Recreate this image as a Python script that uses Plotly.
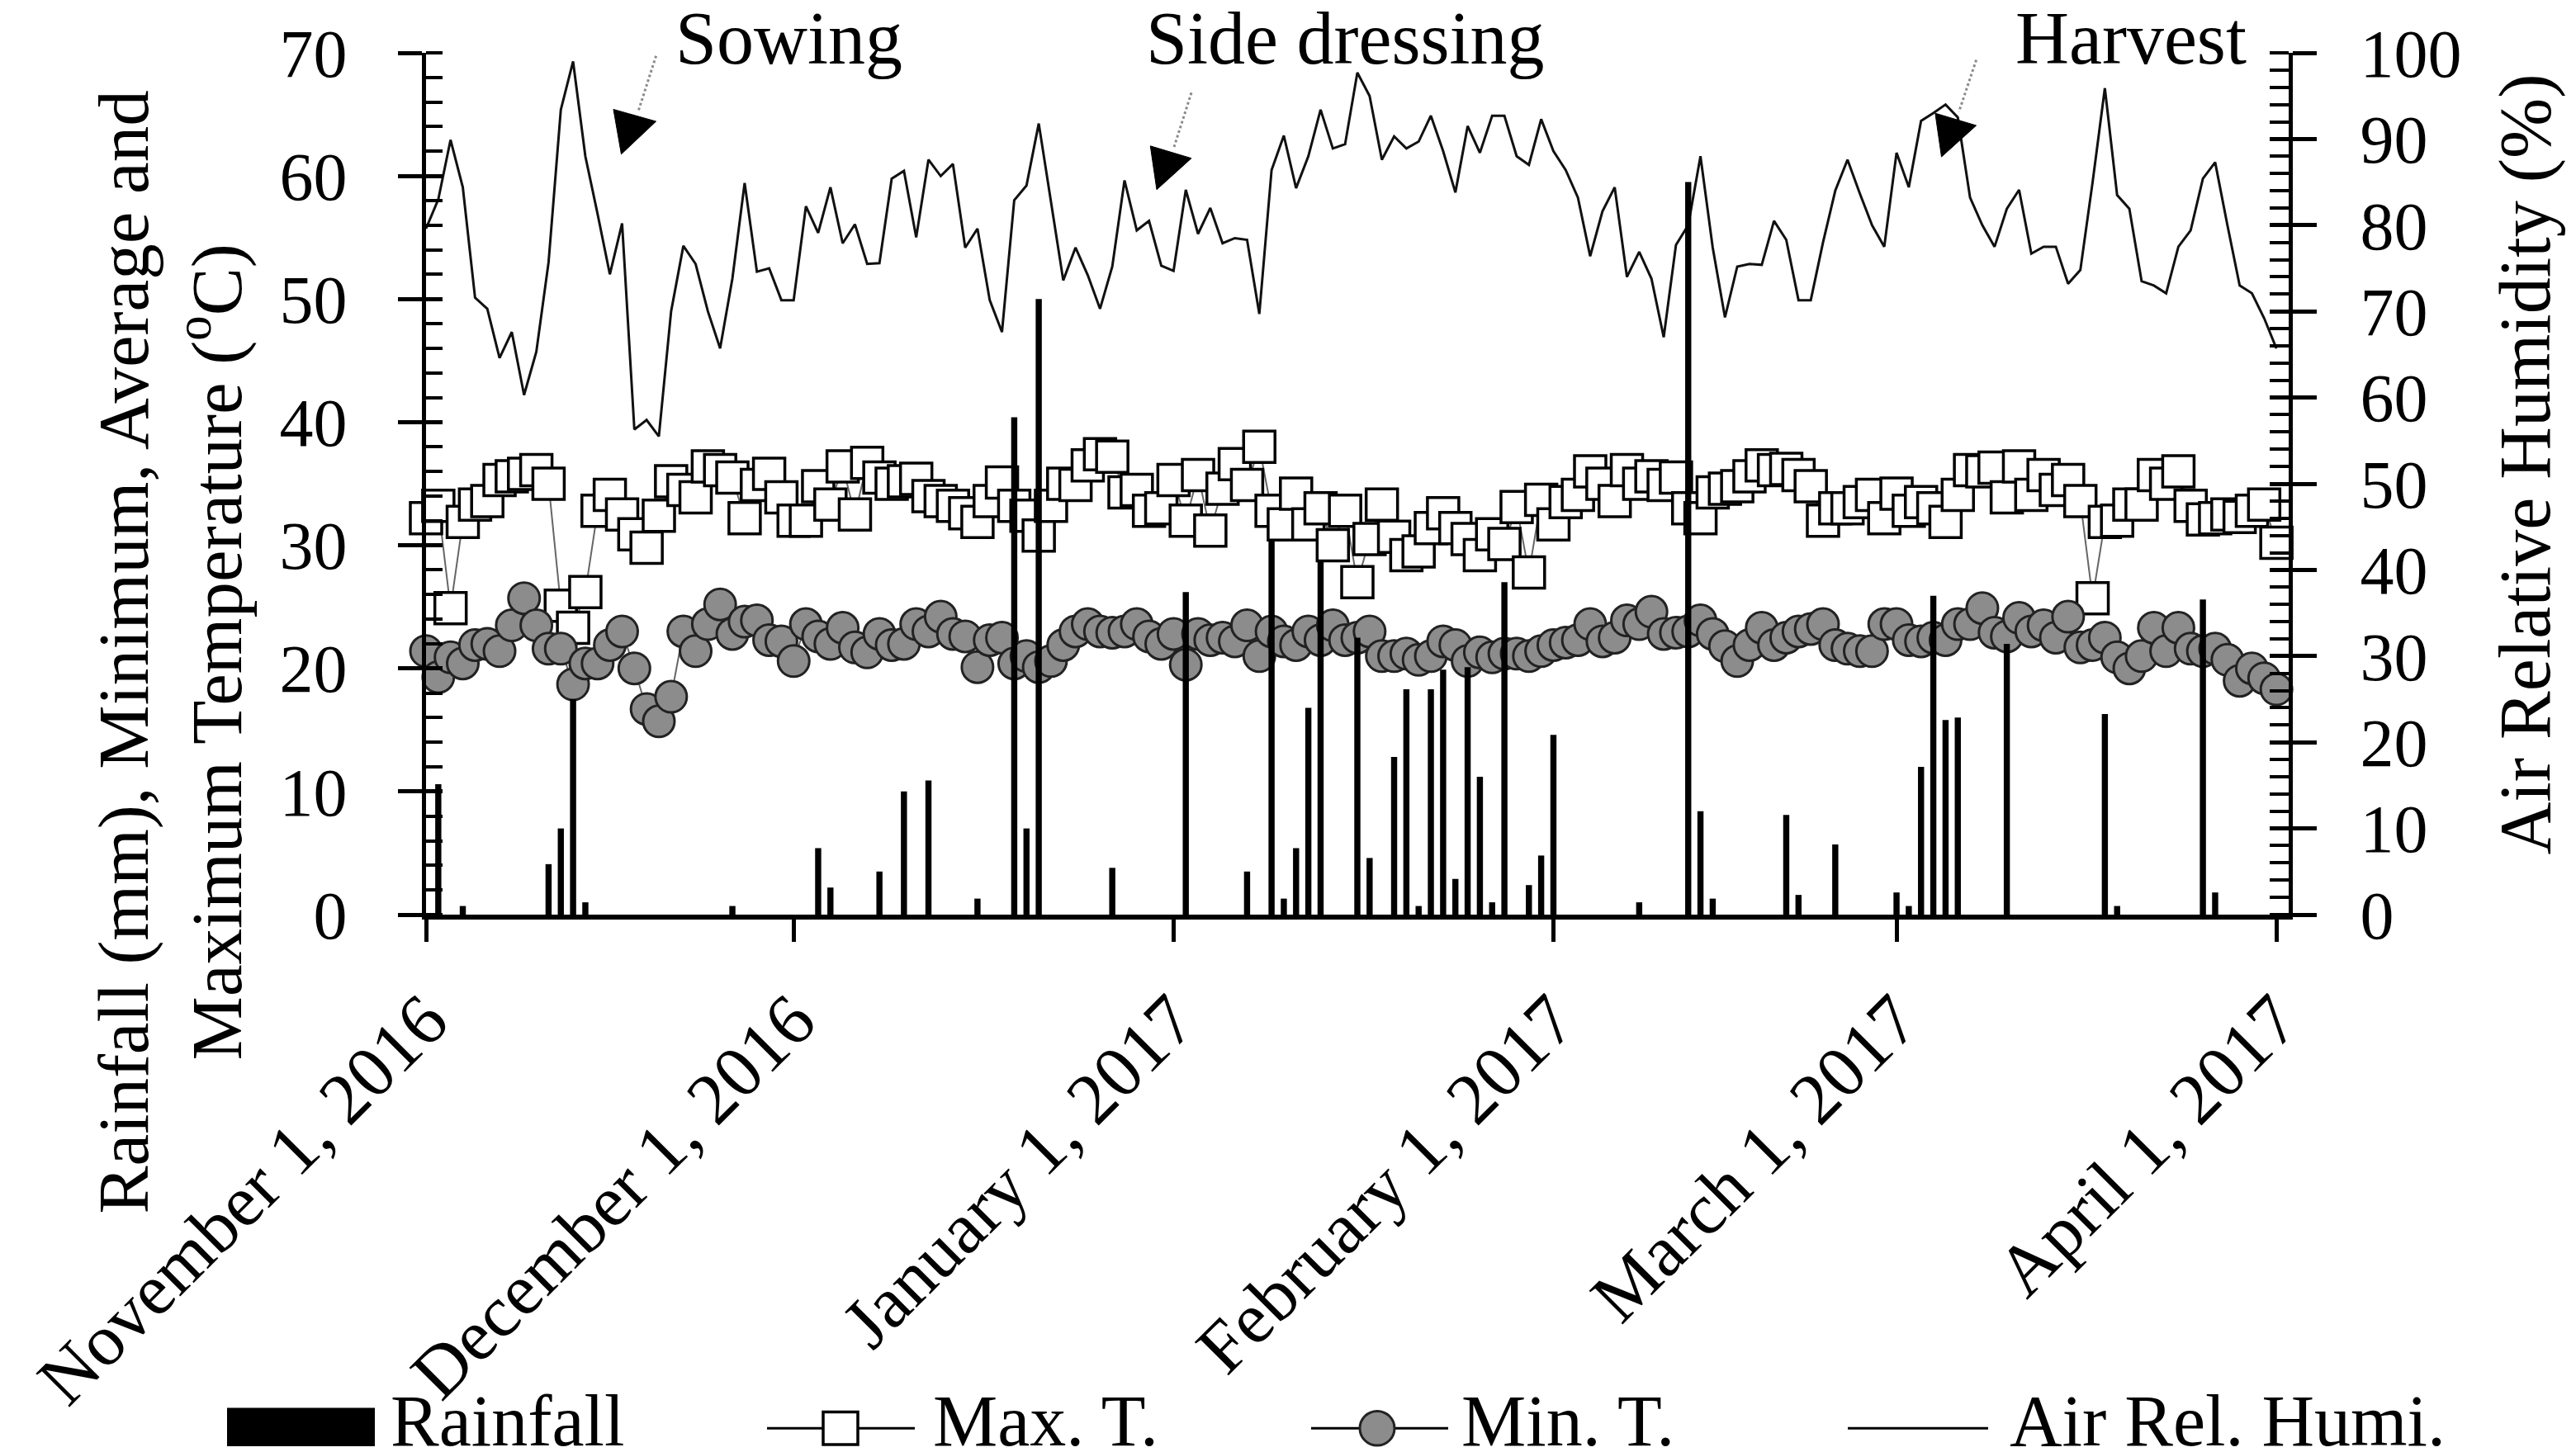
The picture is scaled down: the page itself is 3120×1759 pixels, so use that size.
import numpy as np
import pandas as pd
import plotly.graph_objects as go

FONT = "Liberation Serif"

start = pd.Timestamp("2016-11-01")

# daily values, Nov 1 2016 -> Apr 1 2017
max_t = [32.2, 33.2, 24.9, 31.9, 33.3, 33.6, 35.3, 35.6, 35.8, 36.1, 35.0, 25.1, 23.3, 26.2, 32.8, 34.1,
         32.5, 30.9, 29.8, 32.4, 35.2, 34.5, 33.9, 36.4, 36.1, 35.5, 32.2, 34.9, 35.8, 33.9, 32.0, 32.0,
         34.8, 33.3, 36.4, 32.5, 36.7, 35.5, 35.0, 35.2, 35.4, 34.0, 33.6, 33.2, 32.6, 31.9, 33.6, 35.1,
         33.2, 32.4, 30.8, 33.2, 35.0, 34.9, 36.5, 37.4, 37.2, 34.3, 34.5, 32.8, 33.0, 35.3, 32.0, 35.7,
         31.2, 34.6, 36.6, 34.9, 38.0, 32.8, 31.7, 34.2, 31.7, 33.0, 30.0, 32.8, 27.0, 30.5, 33.3, 30.7,
         29.2, 29.5, 31.4, 32.6, 31.4, 30.5, 29.2, 30.9, 30.1, 33.1, 27.8, 33.7, 31.7, 33.5, 34.1, 36.0,
         35.0, 33.6, 36.1, 35.0, 35.6, 34.9, 35.5, 33.0, 32.2, 34.3, 34.6, 34.8, 35.6, 36.5, 36.1, 36.2,
         35.7, 34.8, 32.0, 33.0, 33.0, 33.5, 34.1, 32.2, 34.2, 32.8, 33.5, 33.0, 31.9, 34.1, 36.1, 36.0,
         36.3, 33.9, 36.4, 34.1, 35.7, 34.5, 35.3, 33.6, 25.7, 31.9, 32.0, 33.3, 33.3, 35.7, 35.0, 36.0,
         33.2, 32.1, 32.2, 32.5, 32.3, 32.8, 33.3, 30.2]

min_t = [21.4, 19.3, 20.9, 20.4, 21.9, 22.0, 21.4, 23.5, 25.7, 23.5, 21.6, 21.6, 18.7, 20.4, 20.4, 21.9,
         23.0, 20.0, 16.7, 15.7, 17.7, 23.0, 21.4, 23.6, 25.2, 22.8, 23.8, 23.9, 22.3, 22.2, 20.6, 23.6,
         22.6, 22.0, 23.3, 21.7, 21.3, 22.8, 21.9, 22.0, 23.6, 23.0, 24.2, 22.8, 22.6, 20.1, 22.3, 22.5,
         20.4, 21.0, 20.1, 20.6, 21.9, 23.0, 23.6, 23.0, 22.9, 23.0, 23.6, 22.6, 22.0, 22.8, 20.3, 22.8,
         22.3, 22.5, 22.2, 23.5, 21.0, 23.0, 22.2, 21.9, 23.0, 22.3, 23.5, 22.3, 22.5, 23.0, 21.0, 21.0,
         21.2, 20.7, 21.0, 22.2, 21.9, 20.6, 21.3, 20.9, 21.2, 21.2, 21.0, 21.4, 21.9, 22.1, 22.3, 23.6,
         22.2, 22.5, 23.9, 23.6, 24.6, 22.8, 22.9, 23.0, 23.9, 22.8, 21.8, 20.6, 21.9, 23.3, 21.9, 22.5,
         23.0, 23.2, 23.6, 21.9, 21.6, 21.4, 21.4, 23.6, 23.6, 22.3, 22.2, 22.5, 22.3, 23.6, 23.6, 24.9,
         22.9, 22.6, 24.1, 23.0, 23.5, 22.5, 24.2, 21.7, 21.9, 22.5, 20.9, 20.0, 21.0, 23.3, 21.4, 23.3,
         21.6, 21.4, 21.6, 20.7, 19.0, 20.0, 19.2, 18.3]

humidity = [79.6, 83.0, 89.9, 84.4, 71.6, 70.3, 64.6, 67.6, 60.3, 65.3, 75.7, 93.4, 99.0, 88.0, 81.3, 74.3,
            80.2, 56.3, 57.4, 55.5, 70.0, 77.6, 75.5, 70.0, 65.7, 73.8, 84.9, 74.6, 75.0, 71.3, 71.3, 82.2,
            79.1, 84.4, 77.9, 80.1, 75.5, 75.6, 85.4, 86.3, 78.6, 87.6, 85.7, 87.1, 77.4, 79.6, 71.3, 67.6,
            82.9, 84.6, 91.8, 82.9, 73.6, 77.4, 74.2, 70.3, 75.2, 85.2, 79.4, 80.5, 75.3, 74.7, 84.1, 79.0,
            82.0, 77.9, 78.5, 78.3, 69.7, 86.4, 90.4, 84.3, 88.0, 93.4, 88.9, 89.4, 97.7, 95.0, 87.6, 90.3,
            88.9, 89.7, 92.7, 88.6, 83.8, 91.5, 88.4, 92.7, 92.7, 88.0, 87.0, 92.3, 88.6, 86.4, 83.2, 76.4,
            81.6, 84.4, 74.0, 76.9, 73.8, 67.0, 77.7, 80.0, 88.0, 77.4, 69.3, 75.2, 75.5, 75.4, 80.5, 78.3,
            71.3, 71.3, 78.0, 84.0, 87.6, 83.7, 80.0, 77.5, 88.4, 84.4, 92.1, 93.0, 94.0, 92.5, 83.2, 80.0,
            77.5, 81.9, 84.1, 76.7, 77.5, 77.5, 73.2, 74.8, 85.0, 95.9, 83.5, 81.9, 73.5, 73.0, 72.1, 77.5,
            79.4, 85.4, 87.3, 80.0, 73.0, 72.1, 69.2, 65.7]

# rainy days (days after Nov 1) and rainfall in mm
rain_day = [1, 3, 10, 11, 12, 13, 25, 32, 33, 37, 39, 41, 45, 48, 49, 50, 56, 62, 67, 69, 70, 71, 72, 73,
            76, 77, 79, 80, 81, 82, 83, 84, 85, 86, 87, 88, 90, 91, 92, 99, 103, 104, 105, 111, 112, 115,
            120, 121, 122, 123, 124, 125, 129, 137, 138, 145, 146]
rain_mm = [10.6, 0.7, 4.1, 7.0, 17.5, 1.0, 0.7, 5.4, 2.2, 3.5, 10.0, 10.9, 1.3, 40.4, 7.0, 50.0, 3.8, 26.2,
           3.5, 30.4, 1.3, 5.4, 16.8, 28.8, 22.5, 4.6, 12.8, 18.3, 0.7, 18.3, 19.9, 2.9, 20.1, 11.2, 1.0,
           27.0, 2.4, 4.8, 14.6, 1.0, 59.5, 8.4, 1.3, 8.1, 1.6, 5.7, 1.8, 0.7, 12.0, 25.9, 15.8, 16.0, 22.0,
           16.3, 0.7, 25.6, 1.8]

tick_dates = ["2016-11-01", "2016-12-01", "2017-01-01", "2017-02-01", "2017-03-01", "2017-04-01"]
tick_text = ["November 1, 2016", "December 1, 2016", "January 1, 2017",
             "February 1, 2017", "March 1, 2017", "April 1, 2017"]

events = ["Sowing", "Side dressing", "Harvest"]

days = start + pd.to_timedelta(np.arange(len(max_t)), unit="D")
rain_dates = start + pd.to_timedelta(rain_day, unit="D")


def at(d):
    # date string d days after Nov 1
    return str(start + pd.Timedelta(days=d))


# plot area in page pixels: x 508..2764, y 48..1100
def px(v):
    return (v - 508) / 2256


def py(v):
    return (1100 - v) / 1052


fig = go.Figure()

fig.add_trace(go.Scatter(
    x=days, y=max_t, mode="lines+markers", name="Max. T.",
    line=dict(color="#666666", width=2),
    marker=dict(symbol="square", size=38, color="white", line=dict(color="black", width=3.5)),
    cliponaxis=False))

fig.add_trace(go.Scatter(
    x=days, y=min_t, mode="lines+markers", name="Min. T.",
    line=dict(color="#666666", width=2),
    marker=dict(symbol="circle", size=38, color="#8c8c8c", line=dict(color="#222222", width=3)),
    cliponaxis=False))

fig.add_trace(go.Scatter(
    x=days, y=humidity, mode="lines", name="Air Rel. Humi.", yaxis="y2",
    line=dict(color="#111111", width=3)))

fig.add_trace(go.Bar(
    x=rain_dates, y=rain_mm, name="Rainfall", yaxis="y3",
    width=0.5 * 86400000, marker=dict(color="black", line=dict(width=0))))

fig.add_trace(go.Scatter(x=[], y=[], yaxis="y4", showlegend=False, hoverinfo="skip"))

fig.update_layout(
    width=3120, height=1759,
    margin=dict(l=508, r=356, t=48, b=659),
    paper_bgcolor="white", plot_bgcolor="white",
    showlegend=False,
    font=dict(family=FONT, color="black", size=82),
    xaxis=dict(type="date", range=["2016-11-01", "2017-04-02"],
               tickvals=tick_dates, ticktext=tick_text, tickangle=-45,
               ticks="outside", ticklen=27, tickwidth=5, tickcolor="black",
               showline=True, linewidth=6, linecolor="black",
               showgrid=False, zeroline=False,
               tickfont=dict(size=88), ticklabelstandoff=8),
    yaxis=dict(range=[0, 70], tick0=0, dtick=10,
               ticks="outside", ticklen=29, tickwidth=5, tickcolor="black",
               showline=True, linewidth=5, linecolor="black",
               showgrid=False, zeroline=False,
               minor=dict(dtick=2, ticks="inside", ticklen=20, tickwidth=4,
                          tickcolor="black", showgrid=False),
               tickfont=dict(size=82), ticklabelstandoff=45),
    yaxis2=dict(overlaying="y", side="right", anchor="x", range=[0, 100], tick0=0, dtick=10,
                ticks="outside", ticklen=29, tickwidth=5, tickcolor="black",
                showline=True, linewidth=5, linecolor="black",
                showgrid=False, zeroline=False,
                minor=dict(dtick=2, ticks="inside", ticklen=23, tickwidth=4,
                           tickcolor="black", showgrid=False),
                tickfont=dict(size=82), ticklabelstandoff=36),
    yaxis3=dict(overlaying="y", side="left", anchor="x", range=[0, 70], tick0=0, dtick=10,
                ticks="inside", ticklen=20, tickwidth=5, tickcolor="black",
                showticklabels=False, showline=False, showgrid=False, zeroline=False),
    yaxis4=dict(overlaying="y", side="right", anchor="x", range=[0, 100], tick0=0, dtick=10,
                ticks="inside", ticklen=23, tickwidth=5, tickcolor="black",
                showticklabels=False, showline=False, showgrid=False, zeroline=False),
)

annotations = []
shapes = []

# axis titles
annotations.append(dict(
    xref="paper", yref="paper", x=px(198), y=py(780), textangle=-90,
    text="Rainfall (mm), Minimum, Average and<br>Maximum Temperature (<sup>o</sup>C)",
    showarrow=False, xanchor="center", yanchor="middle", font=dict(size=87)))
annotations.append(dict(
    xref="paper", yref="paper", x=px(3050), y=py(550), textangle=-90,
    text="Air Relative Humidity (%)",
    showarrow=False, xanchor="center", yanchor="middle", font=dict(size=88)))

# event labels
for label, d in zip(events, [29.6, 75.0, 139.1]):
    annotations.append(dict(
        xref="x", yref="paper", x=at(d), y=py(30), text=label,
        showarrow=False, xanchor="center", yanchor="middle", font=dict(size=90)))

# event arrows: dotted gray tail and filled black head (page pixels)
arrow_tails = [((786.6, 51.7), (765.5, 118.0)),
               ((1435.0, 96.7), (1414.0, 163.0)),
               ((2385.6, 56.7), (2364.6, 120.0))]
arrow_heads = [[(735.0, 117.0), (786.6, 131.7), (744.5, 171.7)],
               [(1385.3, 161.7), (1435.0, 176.7), (1393.0, 215.0)],
               [(2335.9, 121.7), (2385.6, 136.7), (2343.5, 175.0)]]
for (a, b), head in zip(arrow_tails, arrow_heads):
    shapes.append(dict(type="line", xref="paper", yref="paper",
                       x0=px(a[0]), y0=py(a[1]), x1=px(b[0]), y1=py(b[1]),
                       line=dict(color="#8a8a8a", width=3, dash="dot")))
    path = "M " + " L ".join(f"{px(x):.5f},{py(y):.5f}" for x, y in head) + " Z"
    shapes.append(dict(type="path", xref="paper", yref="paper", path=path,
                       fillcolor="black", line=dict(color="black", width=1)))

# legend (drawn by hand to match the large symbols)
leg_y = 1727
shapes += [
    dict(type="rect", xref="paper", yref="paper", x0=px(267), x1=px(446), y0=py(1749), y1=py(1702),
         fillcolor="black", line=dict(width=0)),
    dict(type="line", xref="paper", yref="paper", x0=px(921), x1=px(1100), y0=py(leg_y), y1=py(leg_y),
         line=dict(color="black", width=3)),
    dict(type="rect", xref="paper", yref="paper", x0=px(989), x1=px(1031), y0=py(leg_y + 20), y1=py(leg_y - 20),
         fillcolor="white", line=dict(color="black", width=3.5)),
    dict(type="line", xref="paper", yref="paper", x0=px(1580), x1=px(1746), y0=py(leg_y), y1=py(leg_y),
         line=dict(color="black", width=3)),
    dict(type="circle", xref="paper", yref="paper", x0=px(1639), x1=px(1681), y0=py(leg_y + 21), y1=py(leg_y - 21),
         fillcolor="#8c8c8c", line=dict(color="#222222", width=3)),
    dict(type="line", xref="paper", yref="paper", x0=px(2230), x1=px(2400), y0=py(leg_y), y1=py(leg_y),
         line=dict(color="black", width=3)),
]
for label, x0 in zip(["Rainfall", "Max. T.", "Min. T.", "Air Rel. Humi."], [463, 1120, 1760, 2424]):
    annotations.append(dict(
        xref="paper", yref="paper", x=px(x0), y=py(1718), text=label,
        showarrow=False, xanchor="left", yanchor="middle", font=dict(size=88)))

fig.update_layout(annotations=annotations, shapes=shapes)

fig.write_html("out.html")
